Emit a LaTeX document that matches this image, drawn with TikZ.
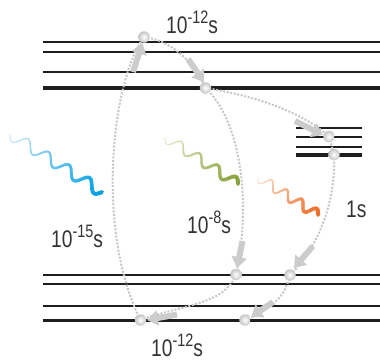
\documentclass[tikz,border=0pt]{standalone}
\usepackage{fontspec}
\setmainfont{Liberation Sans}[FakeStretch=0.8]
\usetikzlibrary{arrows.meta}
\definecolor{lvlcol}{HTML}{1E1E1E}
\definecolor{blueA}{HTML}{C8E6F8}
\definecolor{blueB}{HTML}{009FE3}
\definecolor{greenA}{HTML}{E4EBC8}
\definecolor{greenB}{HTML}{86A038}
\definecolor{orangeA}{HTML}{FCE2CC}
\definecolor{orangeB}{HTML}{EE6A24}
\tikzset{
  lvl/.style={draw=lvlcol, line width=2pt},
  lvlthick/.style={draw=lvlcol, line width=3.2pt},
  ballnode/.style={circle, minimum size=11.5pt, inner sep=0pt, shading=radial, inner color=white, outer color=gray!45},
  dotline/.style={draw=gray!45, line width=2pt, dash pattern=on 2pt off 1.6pt},
  blockarrow/.style={draw=gray!40, line width=6pt, -{Triangle[width=15pt,length=11pt]}},
  lbl/.style={inner sep=0pt, anchor=base west, text=black!80}
}
\newcommand\tlabel[1]{\fontsize{24}{24}\selectfont 10\raisebox{10pt}{\fontsize{18}{18}\selectfont #1}s}
\newcommand\wave[8]{%
  \pgfmathsetmacro\wdx{#3-#1}\pgfmathsetmacro\wdy{#4-#2}%
  \pgfmathsetmacro\wL{veclen(\wdx,\wdy)}%
  \pgfmathsetmacro\wnx{-\wdy/\wL}\pgfmathsetmacro\wny{\wdx/\wL}%
  \foreach \i in {0,...,89}{%
    \pgfmathsetmacro\ta{\i/90}\pgfmathsetmacro\tb{(\i+1)/90}%
    \pgfmathsetmacro\sa{#8*sin(360*#7*\ta)}%
    \pgfmathsetmacro\sb{#8*sin(360*#7*\tb)}%
    \pgfmathtruncatemacro\pc{100*\ta}%
    \pgfmathsetmacro\lw{0.8+3.2*\ta}%
    \draw[line width=\lw pt, line cap=round, color=#6!\pc!#5]
      ({#1+\ta*\wdx+\sa*\wnx},{#2+\ta*\wdy+\sa*\wny}) --
      ({#1+\tb*\wdx+\sb*\wnx},{#2+\tb*\wdy+\sb*\wny});
  }}
\begin{document}
\begin{tikzpicture}[x=1pt,y=-1pt]
\useasboundingbox (0,0) rectangle (380,362);
% energy levels top
\draw[lvl] (43,42) -- (380,42);
\draw[lvl] (43,52) -- (380,52);
\draw[lvl] (43,72) -- (380,72);
\draw[lvlthick] (43,88) -- (380,88);
% small right levels
\draw[lvl] (296,128) -- (362,128);
\draw[lvl] (296,137) -- (362,137);
\draw[lvl] (296,147) -- (362,147);
\draw[lvlthick] (296,155) -- (362,155);
% bottom levels
\draw[lvl] (43,274.5) -- (380,274.5);
\draw[lvl] (43,284) -- (380,284);
\draw[lvl] (43,305.5) -- (380,305.5);
\draw[lvlthick] (43,320.5) -- (380,320.5);

% waves
\wave{10}{134}{102}{192}{blueA}{blueB}{4.5}{5.5}
\wave{165}{137}{238}{184}{greenA}{greenB}{4}{5}
\wave{258}{177}{318}{215}{orangeA}{orangeB}{4}{4.8}

% ball positions
\coordinate (A) at (144,37);
\coordinate (B) at (205.5,88);
\coordinate (C) at (329,136.5);
\coordinate (D) at (334,154.5);
\coordinate (E) at (236,274.5);
\coordinate (F) at (290,275);
\coordinate (G) at (140.5,320);
\coordinate (H) at (245,320);

% dotted paths
\draw[dotline] (G) .. controls (95,230) and (112,80) .. (A);
\draw[dotline] (A) .. controls (170,40) and (195,62) .. (B);
\draw[dotline] (B) .. controls (250,95) and (300,110) .. (C);
\draw[dotline] (C) -- (D);
\draw[dotline] (D) .. controls (336,200) and (320,245) .. (F);
\draw[dotline] (B) .. controls (240,120) and (252,200) .. (E);
\draw[dotline] (E) .. controls (225,305) and (180,305) .. (G);
\draw[dotline] (F) .. controls (285,300) and (265,312) .. (H);

% block arrows
\coordinate (a1t) at (133,72); \coordinate (a1h) at (142.5,43);
\coordinate (a2t) at (188,59);   \coordinate (a2h) at (204,82);
\coordinate (a3t) at (295,121);  \coordinate (a3h) at (323,135);
\coordinate (a4t) at (242.5,241);  \coordinate (a4h) at (237,268);
\coordinate (a5t) at (313,246);  \coordinate (a5h) at (294,268);
\coordinate (a6t) at (177,314.5);  \coordinate (a6h) at (147,320);
\coordinate (a7t) at (273,302);  \coordinate (a7h) at (251,317);
\foreach \n in {1,...,7}{\draw[blockarrow] (a\n t) -- (a\n h);}

% balls
\foreach \b in {A,B,C,D,E,F,G,H}{\node[ballnode] (ball\b) at (\b) {};}

% labels
\node[lbl] (l1) at (166,33) {\tlabel{-12}};
\node[lbl] (l2) at (51,247) {\tlabel{-15}};
\node[lbl] (l3) at (187,233) {\tlabel{-8}};
\node[lbl] (l4) at (346,217) {\fontsize{24}{24}\selectfont 1s};
\node[lbl] (l5) at (151,356) {\tlabel{-12}};
\end{tikzpicture}
\end{document}
